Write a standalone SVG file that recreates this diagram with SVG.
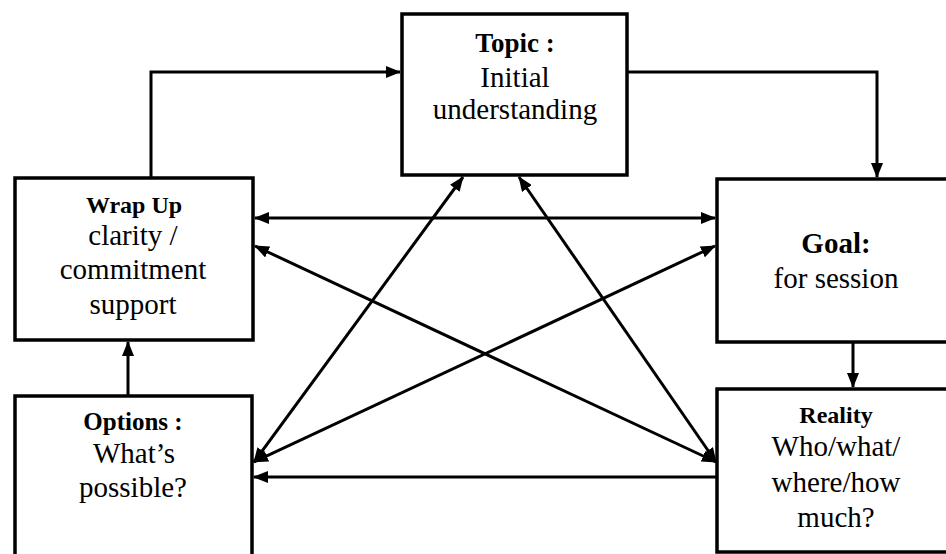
<svg xmlns="http://www.w3.org/2000/svg" width="946" height="554" viewBox="0 0 946 554">
<style>
.box{fill:#fff;stroke:#000;stroke-width:3.5}
.c{fill:none;stroke:#000;stroke-width:3}
text{font-family:"Liberation Serif","Times New Roman",serif;fill:#000;text-anchor:middle;font-size:29px}
.b{font-weight:bold}
</style>
<defs>
<marker id="ah" markerUnits="userSpaceOnUse" markerWidth="16" markerHeight="12" refX="14" refY="6" orient="auto-start-reverse">
<path d="M0,0 L15,6 L0,12 z" fill="#000"/>
</marker>
</defs>
<rect width="946" height="554" fill="#fff"/>
<g id="connectors">
<path class="c" d="M151,178 V72 H400" marker-end="url(#ah)"/>
<path class="c" d="M627,72 H877 V177" marker-end="url(#ah)"/>
<path class="c" d="M853,342 V387" marker-end="url(#ah)"/>
<path class="c" d="M128,396 V342" marker-end="url(#ah)"/>
<path class="c" d="M255,218 H715" marker-start="url(#ah)" marker-end="url(#ah)"/>
<path class="c" d="M255,246 L716,462" marker-start="url(#ah)" marker-end="url(#ah)"/>
<path class="c" d="M254,462 L715,246" marker-start="url(#ah)" marker-end="url(#ah)"/>
<path class="c" d="M254,462 L463,177" marker-start="url(#ah)" marker-end="url(#ah)"/>
<path class="c" d="M716,462 L519,177" marker-start="url(#ah)" marker-end="url(#ah)"/>
<path class="c" d="M717,477 H254" marker-end="url(#ah)"/>
</g>
<g id="topic">
<rect class="box" x="402" y="14" width="225" height="161"/>
<text class="b" x="515" y="52" style="font-size:27px">Topic :</text>
<text x="515" y="87">Initial</text>
<text x="515" y="119">understanding</text>
</g>
<g id="wrapup">
<rect class="box" x="15" y="178" width="238" height="162"/>
<text class="b" x="134" y="213" style="font-size:24px">Wrap Up</text>
<text x="133" y="245">clarity /</text>
<text x="133" y="279">commitment</text>
<text x="133" y="314">support</text>
</g>
<g id="goal">
<rect class="box" x="717" y="179" width="245" height="163"/>
<text class="b" x="836" y="253">Goal:</text>
<text x="836" y="288">for session</text>
</g>
<g id="options">
<rect class="box" x="15" y="396" width="237" height="170"/>
<text class="b" x="133" y="430" style="font-size:25px">Options :</text>
<text x="134" y="463">What’s</text>
<text x="133" y="497">possible?</text>
</g>
<g id="reality">
<rect class="box" x="717" y="389" width="245" height="163"/>
<text class="b" x="836" y="423" style="font-size:24px">Reality</text>
<text x="836" y="456">Who/what/</text>
<text x="836" y="492">where/how</text>
<text x="836" y="527">much?</text>
</g>
</svg>
